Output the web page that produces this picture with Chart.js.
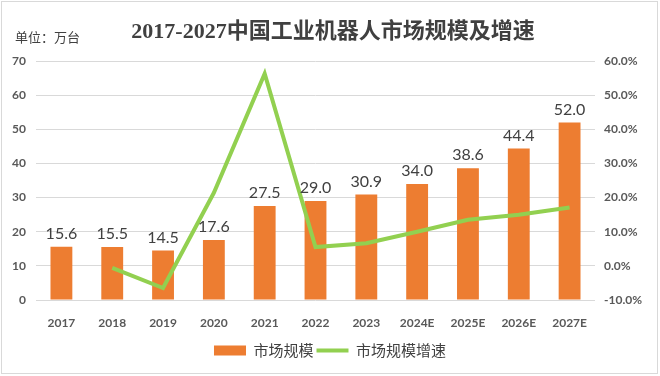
<!DOCTYPE html>
<html>
<head>
<meta charset="utf-8">
<script src="https://cdn.jsdelivr.net/npm/chart.js@4"></script>
<style>
  body { margin: 0; background: #fff; }
  #wrap { position: relative; width: 660px; height: 376px; }
  #frame { position: absolute; left: 1px; top: 1px; width: 655px; height: 371px; border: 1px solid #d9d9d9; pointer-events: none; }
  #title { position: absolute; left: 0; width: 666px; top: 12px; text-align: center; font: bold 22px "Liberation Serif", "Noto Sans CJK SC", serif; color: #404040; }
  #unit { position: absolute; left: 15px; top: 27px; font: 13px "Noto Sans CJK SC", sans-serif; color: #404040; }
</style>
</head>
<body>
<div id="wrap">
  <canvas id="c" width="660" height="376"></canvas>
  <div id="title">2017-2027中国工业机器人市场规模及增速</div>
  <div id="unit">单位：万台</div>
  <div id="frame"></div>
</div>
<script>
// 数据
const years = ['2017', '2018', '2019', '2020', '2021', '2022', '2023', '2024E', '2025E', '2026E', '2027E'];
const marketSize = [15.6, 15.5, 14.5, 17.6, 27.5, 29.0, 30.9, 34.0, 38.6, 44.4, 52.0];
const growthRate = [null, -0.6, -6.5, 21.4, 56.3, 5.5, 6.6, 10.0, 13.5, 15.0, 17.1];

const tickFont = { family: 'Lato, "Noto Sans CJK SC"', size: 12, weight: 'bold' };

// 柱子上方的数值
const barLabels = {
  id: 'barLabels',
  afterDatasetsDraw(chart) {
    const ctx = chart.ctx;
    const meta = chart.getDatasetMeta(0);
    ctx.save();
    ctx.font = '16px Lato, sans-serif';
    ctx.fillStyle = '#404040';
    ctx.textAlign = 'center';
    ctx.textBaseline = 'bottom';
    meta.data.forEach((bar, i) => {
      ctx.fillText(marketSize[i].toFixed(1), bar.x, bar.y - 5);
    });
    ctx.restore();
  }
};

new Chart(document.getElementById('c'), {
  data: {
    labels: years,
    datasets: [{
      type: 'bar',
      label: '市场规模',
      data: marketSize,
      backgroundColor: '#ED7D31',
      barPercentage: 0.43,
      categoryPercentage: 1,
      pointStyle: 'rect',
      yAxisID: 'y',
      order: 2
    }, {
      type: 'line',
      label: '市场规模增速',
      data: growthRate,
      borderColor: '#92D050',
      backgroundColor: '#92D050',
      borderWidth: 4,
      pointRadius: 0,
      tension: 0,
      pointStyle: 'line',
      yAxisID: 'y1',
      order: 1
    }]
  },
  options: {
    responsive: false,
    animation: false,
    layout: { padding: { top: 61, left: 0, right: 0, bottom: 8 } },
    scales: {
      x: {
        grid: { display: false },
        border: { display: false },
        ticks: { color: '#595959', font: tickFont, padding: 8 },
        afterFit(s) { s.height = 40; }
      },
      y: {
        min: 0, max: 70,
        ticks: { stepSize: 10, color: '#595959', font: tickFont, padding: 10 },
        grid: { color: '#d9d9d9', drawTicks: false },
        border: { display: false },
        afterFit(s) { s.width = 36; }
      },
      y1: {
        position: 'right',
        min: -10, max: 60,
        ticks: { stepSize: 10, color: '#595959', font: tickFont, padding: 9,
          callback: v => v.toFixed(1) + '%' },
        grid: { display: false, drawTicks: false },
        border: { display: false },
        afterFit(s) { s.width = 65; }
      }
    },
    plugins: {
      legend: {
        position: 'bottom',
        labels: {
          usePointStyle: true,
          pointStyleWidth: 32,
          boxWidth: 32,
          boxHeight: 10,
          padding: 3,
          color: '#404040',
          sort: (a, b) => a.datasetIndex - b.datasetIndex,
          font: { family: '"Noto Sans CJK SC", sans-serif', size: 15 }
        }
      },
      tooltip: { enabled: false }
    }
  },
  plugins: [barLabels]
});
</script>
</body>
</html>
